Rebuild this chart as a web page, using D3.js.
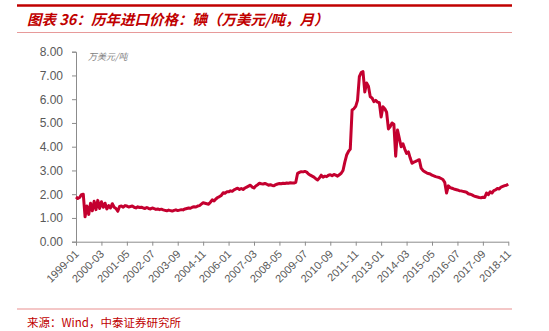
<!DOCTYPE html>
<html>
<head>
<meta charset="utf-8">
<script src="https://cdn.jsdelivr.net/npm/d3@7"></script>
<style>
  html, body { margin: 0; padding: 0; background: #fff; }
  svg { display: block; }
</style>
</head>
<body>
<svg id="chart" width="549" height="331"></svg>
<script>
// Iodine import price, monthly, 10k USD per tonne
const startYear = 1999;
const endYear = 2018;
const endMonth = 11;

const months = [];
for (let y = startYear; y <= endYear; y++) {
  for (let m = 1; m <= 12; m++) {
    if (y === endYear && m > endMonth) break;
    months.push(y + "-" + String(m).padStart(2, "0"));
  }
}

const values1999 = [1.88, 1.82, 1.86, 1.98, 2.00, 1.05, 1.50, 1.15, 1.62, 1.30, 1.70, 1.35];
const values2000 = [1.74, 1.40, 1.68, 1.45, 1.62, 1.38, 1.52, 1.42, 1.60, 1.45, 1.40, 1.28];
const values2001 = [1.48, 1.50, 1.45, 1.52, 1.50, 1.46, 1.48, 1.50, 1.45, 1.42, 1.47, 1.44];
const values2002 = [1.45, 1.42, 1.40, 1.44, 1.40, 1.38, 1.42, 1.39, 1.36, 1.38, 1.35, 1.37];
const values2003 = [1.34, 1.32, 1.30, 1.33, 1.31, 1.29, 1.32, 1.34, 1.31, 1.33, 1.35, 1.34];
const values2004 = [1.38, 1.40, 1.42, 1.41, 1.45, 1.47, 1.46, 1.50, 1.52, 1.58, 1.64, 1.62];
const values2005 = [1.60, 1.58, 1.66, 1.76, 1.72, 1.80, 1.86, 1.90, 1.95, 2.06, 2.04, 2.10];
const values2006 = [2.10, 2.14, 2.12, 2.18, 2.22, 2.25, 2.20, 2.24, 2.20, 2.26, 2.30, 2.34];
const values2007 = [2.38, 2.30, 2.26, 2.35, 2.40, 2.46, 2.44, 2.43, 2.45, 2.42, 2.38, 2.40];
const values2008 = [2.37, 2.36, 2.40, 2.43, 2.45, 2.44, 2.46, 2.45, 2.47, 2.46, 2.48, 2.47];
const values2009 = [2.47, 2.50, 2.88, 2.92, 2.95, 2.94, 2.96, 2.93, 2.85, 2.80, 2.76, 2.72];
const values2010 = [2.65, 2.60, 2.68, 2.80, 2.72, 2.76, 2.74, 2.80, 2.82, 2.78, 2.83, 2.80];
const values2011 = [2.76, 2.82, 2.88, 3.00, 3.35, 3.65, 3.80, 3.90, 5.55, 5.60, 5.70, 5.95];
const values2012 = [6.95, 7.12, 7.16, 6.30, 6.68, 6.55, 6.10, 6.05, 5.90, 5.95, 5.88, 5.85];
const values2013 = [5.25, 5.68, 5.60, 5.45, 4.75, 4.85, 5.00, 4.95, 3.60, 4.70, 4.35, 4.00];
const values2014 = [4.12, 3.90, 3.72, 3.78, 3.52, 3.30, 3.35, 3.38, 3.42, 3.45, 3.10, 3.00];
const values2015 = [2.95, 2.90, 2.87, 2.85, 2.80, 2.77, 2.74, 2.72, 2.70, 2.66, 2.62, 2.50];
const values2016 = [2.05, 2.35, 2.28, 2.25, 2.22, 2.20, 2.18, 2.15, 2.14, 2.12, 2.10, 2.08];
const values2017 = [2.02, 2.00, 1.97, 1.93, 1.90, 1.88, 1.86, 1.85, 1.87, 1.86, 2.05, 1.98];
const values2018 = [2.10, 2.05, 2.15, 2.18, 2.24, 2.22, 2.30, 2.33, 2.36, 2.38, 2.42];

const prices = [].concat(
  values1999, values2000, values2001, values2002, values2003,
  values2004, values2005, values2006, values2007, values2008,
  values2009, values2010, values2011, values2012, values2013,
  values2014, values2015, values2016, values2017, values2018
);

const yTicks = [0, 1, 2, 3, 4, 5, 6, 7, 8];
const xTickLabels = ["1999-01", "2000-03", "2001-05", "2002-07", "2003-09", "2004-11",
  "2006-01", "2007-03", "2008-05", "2009-07", "2010-09", "2011-11", "2013-01",
  "2014-03", "2015-05", "2016-07", "2017-09", "2018-11"];

const titleText = "图表 36：历年进口价格：碘（万美元/吨，月）";
const unitText = "万美元/吨";
const sourceText = "来源：Wind，中泰证券研究所";

const svg = d3.select("#chart");
const plot = { left: 76, right: 508.3, top: 51.7, bottom: 241.7 };

const x = d3.scalePoint().domain(months).range([plot.left, plot.right]);
const y = d3.scaleLinear().domain([0, 8]).range([plot.bottom, plot.top]);

const red = "#c00000";
const axisGrey = "#8c8c8c";
const labelGrey = "#595959";

// header rules and title
svg.append("line").attr("x1", 17).attr("x2", 512).attr("y1", 5.5).attr("y2", 5.5)
  .attr("stroke", red).attr("stroke-width", 2.5);
svg.append("line").attr("x1", 17).attr("x2", 512).attr("y1", 32.5).attr("y2", 32.5)
  .attr("stroke", "#e79a9a").attr("stroke-width", 1);
svg.append("text").attr("x", 27).attr("y", 25)
  .attr("font-family", "'Noto Sans CJK SC', sans-serif")
  .attr("font-size", 14.5).attr("font-weight", "bold").attr("font-style", "italic")
  .attr("fill", red).text(titleText);

// y axis
const yAxis = d3.axisLeft(y).tickValues(yTicks).tickSize(4).tickPadding(9)
  .tickFormat(d3.format(".2f"));
const gy = svg.append("g").attr("transform", `translate(${plot.left},0)`).call(yAxis);
gy.select(".domain").attr("stroke", axisGrey);
gy.selectAll(".tick line").attr("stroke", axisGrey);
gy.selectAll(".tick text").attr("fill", labelGrey)
  .attr("font-family", "'Liberation Sans', Arial, sans-serif").attr("font-size", 12);

// x axis
const xAxis = d3.axisBottom(x).tickValues(xTickLabels).tickSize(4).tickSizeOuter(0);
const gx = svg.append("g").attr("transform", `translate(0,${plot.bottom})`).call(xAxis);
gx.select(".domain").attr("stroke", axisGrey);
gx.selectAll(".tick line").attr("stroke", axisGrey);
gx.selectAll(".tick text")
  .attr("fill", labelGrey)
  .attr("font-family", "'Liberation Sans', Arial, sans-serif").attr("font-size", 11)
  .attr("text-anchor", "end")
  .attr("dy", null).attr("y", null)
  .attr("transform", "translate(3,13) rotate(-45)");

// unit label
svg.append("text").attr("x", 88).attr("y", 60)
  .attr("font-family", "'Noto Sans CJK SC', sans-serif")
  .attr("font-size", 9).attr("font-style", "italic")
  .attr("fill", "#7f7f7f").text(unitText);

// price line
const line = d3.line().x((d, i) => x(months[i])).y(d => y(d));
svg.append("path").datum(prices)
  .attr("fill", "none").attr("stroke", "#c4002f").attr("stroke-width", 3)
  .attr("stroke-linejoin", "round").attr("d", line);

// footer
svg.append("line").attr("x1", 17).attr("x2", 512).attr("y1", 309).attr("y2", 309)
  .attr("stroke", "#f0b4b4").attr("stroke-width", 1.5);
svg.append("text").attr("x", 27).attr("y", 327)
  .attr("font-family", "'Noto Sans CJK SC', monospace")
  .attr("font-size", 11.5).attr("fill", red).text(sourceText);
</script>
</body>
</html>
